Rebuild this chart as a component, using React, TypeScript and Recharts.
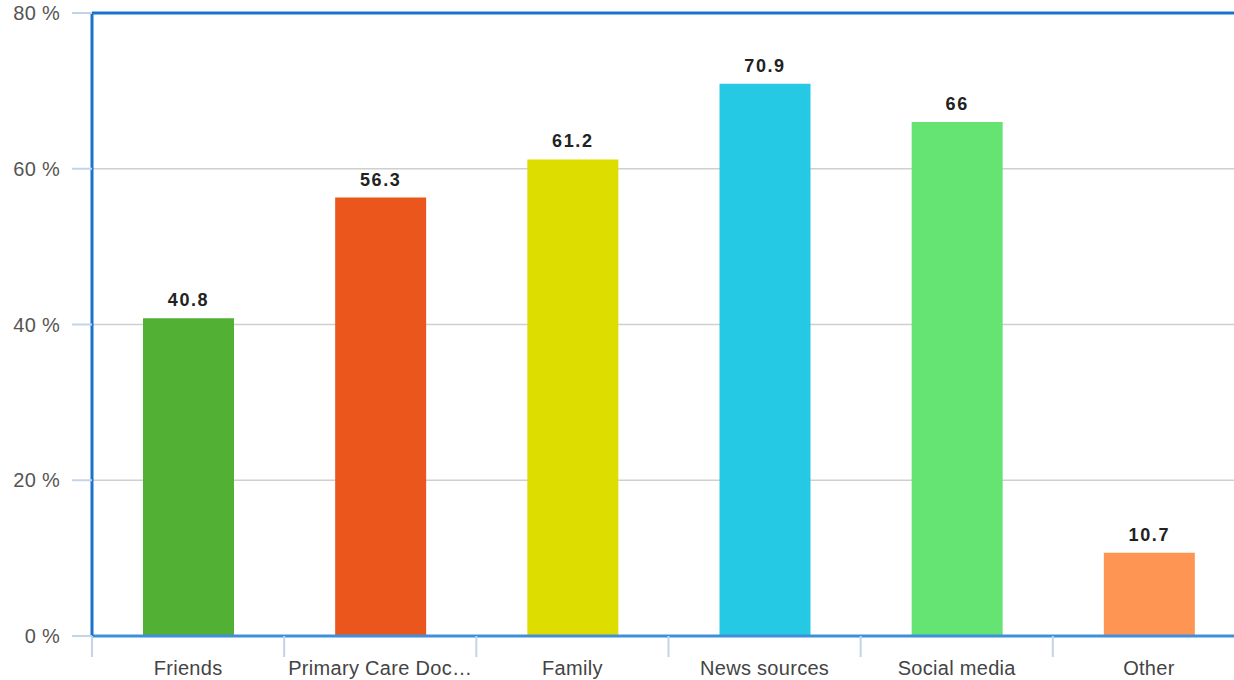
import { BarChart, Bar, XAxis, YAxis, CartesianGrid, Cell, LabelList, ReferenceLine } from "recharts";

const categories = ["Friends", "Primary Care Doctor", "Family", "News sources", "Social media", "Other"];
const values = [40.8, 56.3, 61.2, 70.9, 66, 10.7];
const barColors = ["#52B135", "#EB561D", "#DDDD00", "#26C9E3", "#65E373", "#FE9553"];
const yTicks = [0, 20, 40, 60, 80];

const data = categories.map((name, i) => ({ name, value: values[i] }));

const W = 1250;
const H = 680;
const M = { top: 13, right: 5, left: 0, bottom: 0 };
const Y_W = 92;
const BAND = (W - M.right - Y_W) / categories.length;

function shorten(s: string) {
  return s.length > 17 ? s.slice(0, 16) + "…" : s;
}

function XTick({ x, y, payload }: any) {
  const left = x - BAND / 2;
  return (
    <g>
      <line x1={left} y1={y - 8} x2={left} y2={y + 13} stroke="#c3d4e8" strokeWidth={2} />
      <text x={x} y={y + 31} textAnchor="middle" fontSize={20} letterSpacing={0.3} fill="#444">
        {shorten(payload.value)}
      </text>
    </g>
  );
}

export default function App() {
  return (
    <div style={{ position: "absolute", left: 0, top: 0, width: 1234, height: 680, overflow: "hidden", background: "#fff", fontFamily: "'Liberation Sans', Arial, sans-serif" }}>
      <BarChart width={W} height={H} data={data} margin={M}>
        <CartesianGrid vertical={false} stroke="#cfcfcf" strokeWidth={1.5} />
        <XAxis
          dataKey="name"
          height={44}
          axisLine={{ stroke: "#3f8fdc", strokeWidth: 3 }}
          tickLine={false}
          tick={<XTick />}
          interval={0}
        />
        <YAxis
          width={Y_W}
          domain={[0, 80]}
          ticks={yTicks}
          tickFormatter={(v) => `${v} %`}
          axisLine={{ stroke: "#1a72cf", strokeWidth: 3 }}
          tickLine={{ stroke: "#c3d4e8", strokeWidth: 2 }}
          tickSize={20}
          tickMargin={12}
          tick={{ fontSize: 20, fill: "#555", letterSpacing: 0.3 }}
        />
        <ReferenceLine y={80} stroke="#1a72cf" strokeWidth={3} ifOverflow="visible" />
        <Bar dataKey="value" barSize={91} isAnimationActive={false}>
          {data.map((d, i) => (
            <Cell key={d.name} fill={barColors[i]} />
          ))}
          <LabelList
            dataKey="value"
            position="top"
            offset={12}
            style={{ fontSize: 18, fontWeight: 700, fill: "#222", letterSpacing: 1.6 }}
          />
        </Bar>
      </BarChart>
    </div>
  );
}
